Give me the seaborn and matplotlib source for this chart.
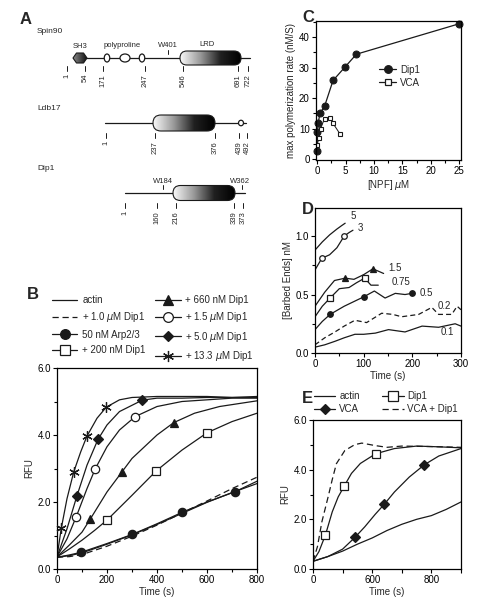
import numpy as np
import pandas as pd
import matplotlib
matplotlib.use("Agg")
import matplotlib.pyplot as plt
import seaborn as sns
from matplotlib.lines import Line2D
from matplotlib.patches import FancyBboxPatch, Ellipse, Polygon
from matplotlib.colors import LinearSegmentedColormap
from matplotlib.ticker import MultipleLocator, FixedLocator, FixedFormatter

# ---------------- data ----------------
# panel A: domain diagrams (residue numbers and their place on the schematic)
spin90_res = [1, 54, 171, 247, 546, 691, 722]
spin90_pos = [67, 85, 103, 145, 183, 238, 248]
ldb17_res = [1, 237, 376, 439, 492]
ldb17_pos = [106, 155, 215, 239, 247]
dip1_res = [1, 160, 216, 339, 373]
dip1_pos = [125, 157, 176, 234, 243]

# panel B: pyrene actin assembly (RFU vs time)
b_actin_t = [0, 50, 100, 200, 300, 400, 500, 600, 700, 800]
b_actin_y = [0.35, 0.40, 0.48, 0.74, 1.02, 1.33, 1.66, 1.99, 2.28, 2.55]
b_dip10_t = [0, 50, 100, 200, 300, 400, 500, 600, 700, 800]
b_dip10_y = [0.35, 0.37, 0.43, 0.68, 0.98, 1.31, 1.67, 2.03, 2.40, 2.74]
b_arp_t = [0, 50, 97, 200, 300, 400, 500, 600, 713, 800]
b_arp_y = [0.35, 0.42, 0.50, 0.76, 1.03, 1.35, 1.69, 2.00, 2.31, 2.62]
b_200_t = [0, 50, 100, 150, 200, 300, 397, 500, 601, 700, 800]
b_200_y = [0.36, 0.60, 0.86, 1.15, 1.46, 2.20, 2.93, 3.55, 4.07, 4.40, 4.65]
b_660_t = [0, 50, 100, 133, 200, 260, 300, 400, 467, 550, 650, 800]
b_660_y = [0.36, 0.72, 1.10, 1.49, 2.30, 2.90, 3.30, 4.00, 4.37, 4.65, 4.85, 5.02]
b_1p5_t = [0, 40, 77, 120, 153, 200, 250, 313, 400, 500, 600, 700, 800]
b_1p5_y = [0.36, 0.90, 1.56, 2.40, 2.99, 3.65, 4.15, 4.55, 4.85, 5.00, 5.05, 5.10, 5.10]
b_5p0_t = [0, 40, 80, 120, 164, 200, 250, 341, 400, 500, 600, 800]
b_5p0_y = [0.36, 1.20, 2.19, 3.10, 3.87, 4.30, 4.70, 5.04, 5.10, 5.10, 5.12, 5.12]
b_13_t = [0, 17, 40, 67, 95, 120, 160, 197, 250, 300, 400, 500, 600, 700, 800]
b_13_y = [0.36, 1.21, 2.10, 2.90, 3.50, 3.97, 4.50, 4.83, 5.05, 5.12, 5.15, 5.15, 5.15, 5.12, 5.15]

# panel C: max polymerization rate vs NPF
c_dip1_npf = [0.0, 0.05, 0.2, 0.5, 1.3, 2.8, 4.9, 6.9, 25.0]
c_dip1_rate = [2.6, 8.8, 12.0, 15.0, 17.3, 25.8, 30.2, 34.4, 44.4]
c_vca_npf = [0.0, 0.3, 0.6, 1.3, 2.3, 2.8, 4.0]
c_vca_rate = [4.5, 7.0, 10.0, 13.3, 13.5, 11.7, 8.3]

# panel D: barbed ends vs time for Dip1 concentrations
d_5_t = [0, 15, 30, 45, 55, 62]
d_5_y = [0.88, 0.95, 1.01, 1.06, 1.09, 1.11]
d_3_t = [0, 14, 30, 45, 60, 70, 78]
d_3_y = [0.71, 0.81, 0.84, 0.90, 1.00, 1.03, 1.05]
d_1p5_t = [0, 20, 40, 62, 80, 100, 119, 130, 141]
d_1p5_y = [0.40, 0.52, 0.62, 0.64, 0.63, 0.67, 0.72, 0.70, 0.68]
d_0p75_t = [0, 15, 31, 50, 70, 85, 102, 115, 130]
d_0p75_y = [0.31, 0.40, 0.47, 0.55, 0.56, 0.60, 0.64, 0.58, 0.58]
d_0p5_t = [0, 15, 31, 60, 80, 100, 122, 144, 165, 185, 199]
d_0p5_y = [0.20, 0.27, 0.33, 0.40, 0.44, 0.48, 0.53, 0.47, 0.51, 0.50, 0.51]
d_0p2_t = [0, 20, 41, 60, 82, 106, 137, 160, 178, 213, 240, 254, 281, 292, 300]
d_0p2_y = [0.07, 0.13, 0.18, 0.23, 0.28, 0.26, 0.34, 0.33, 0.31, 0.33, 0.39, 0.33, 0.33, 0.40, 0.37]
d_0p1_t = [0, 20, 41, 60, 82, 100, 124, 151, 185, 220, 254, 288, 300]
d_0p1_y = [0.05, 0.07, 0.10, 0.13, 0.16, 0.16, 0.17, 0.20, 0.18, 0.23, 0.22, 0.25, 0.23]

# panel E: pyrene actin assembly with VCA / Dip1
e_actin_t = [0, 100, 200, 300, 400, 500, 600, 700, 800, 900, 1000]
e_actin_y = [0.31, 0.50, 0.72, 1.00, 1.25, 1.55, 1.80, 2.00, 2.15, 2.40, 2.70]
e_vca_t = [0, 100, 200, 283, 350, 420, 482, 550, 650, 753, 850, 1000]
e_vca_y = [0.31, 0.50, 0.80, 1.27, 1.70, 2.20, 2.61, 3.10, 3.70, 4.20, 4.55, 4.85]
e_dip1_t = [0, 40, 84, 130, 170, 210, 260, 320, 423, 550, 700, 850, 1000]
e_dip1_y = [0.31, 0.70, 1.37, 2.30, 2.90, 3.33, 3.85, 4.25, 4.64, 4.85, 4.95, 4.92, 4.88]
e_both_t = [0, 30, 60, 102, 130, 158, 215, 283, 330, 420, 500, 600, 800, 1000]
e_both_y = [0.31, 0.90, 1.90, 2.90, 3.60, 4.24, 4.77, 5.01, 5.07, 4.97, 4.90, 4.95, 4.93, 4.90]

# ---------------- style ----------------
sns.set_theme(style="ticks")
plt.rcParams['font.family'] = ['Liberation Sans', 'DejaVu Sans']
plt.rcParams.update({
    'font.size': 7,
    'axes.linewidth': 0.9,
    'axes.edgecolor': 'black',
    'xtick.color': 'black',
    'ytick.color': 'black',
    'xtick.major.size': 3, 'ytick.major.size': 3,
    'xtick.minor.size': 2, 'ytick.minor.size': 2,
    'xtick.major.width': 0.8, 'ytick.major.width': 0.8,
    'xtick.minor.width': 0.8, 'ytick.minor.width': 0.8,
    'xtick.major.pad': 1.5, 'ytick.major.pad': 1.5,
    'mathtext.default': 'it',
})

W, H = 481, 609
fig = plt.figure(figsize=(W / 100, H / 100), dpi=100)


def frac(x0, y0, x1, y1):
    return [x0 / W, 1 - y1 / H, (x1 - x0) / W, (y1 - y0) / H]


LW = 0.9
MS = 6


def style_axes(ax):
    for s in ax.spines.values():
        s.set_visible(True)
        s.set_linewidth(0.9)
    ax.tick_params(axis='both', which='both', direction='out', labelsize=7,
                   top=False, right=False)
    ax.grid(False)


def curve(ax, t, y, ls='-', marker=None, mfc='k', mark_idx=None, ms=MS):
    sns.lineplot(x=t, y=y, ax=ax, color='k', lw=LW, linestyle=ls,
                 estimator=None, sort=False)
    if marker is not None:
        mt = [t[i] for i in mark_idx]
        my = [y[i] for i in mark_idx]
        ax.plot(mt, my, ls='none', marker=marker, ms=ms, mfc=mfc,
                mec='k', mew=0.9, zorder=5, clip_on=False)


# ---------------- panel A (schematic, pixel space) ----------------
axA = fig.add_axes([0, 0, 1, 1], zorder=-1)
axA.set_axis_off()

grad_cmap = LinearSegmentedColormap.from_list('g', ['#fafafa', '#9a9a9a', '#202020', '#000000'])
dark_cmap = LinearSegmentedColormap.from_list('d', ['#8a8a8a', '#111111'])
gradient = np.linspace(0, 1, 256).reshape(1, -1)


def grad_box(x0, x1, yc, h, cmap):
    box = FancyBboxPatch((x0, yc - h / 2), x1 - x0, h,
                         boxstyle="round,pad=0,rounding_size=%.1f" % (h / 2),
                         fc='none', ec='k', lw=0.8, zorder=4)
    axA.add_patch(box)
    im = axA.imshow(gradient, extent=(x0, x1, yc + h / 2, yc - h / 2),
                    cmap=cmap, aspect='auto', zorder=3)
    im.set_clip_path(box)


def res_ticks(pos, res, y_tick):
    for p, r in zip(pos, res):
        axA.plot([p, p], [y_tick, y_tick + 5], color='k', lw=0.7)
        axA.text(p, y_tick + 8, str(r), rotation=90, ha='center', va='top', fontsize=5.5)


txt = dict(fontsize=5.5, ha='center', va='baseline')

# Spin90
axA.text(37, 33, 'Spin90', fontsize=6, ha='left')
axA.plot([73, 250], [58, 58], color='k', lw=LW, zorder=2)
hexv = np.array([[73, 58], [76.5, 53], [83.5, 53], [87, 58], [83.5, 63], [76.5, 63]])
hexp = Polygon(hexv, closed=True, fc='none', ec='k', lw=0.8, zorder=4)
axA.add_patch(hexp)
im = axA.imshow(gradient, extent=(73, 87, 63, 53), cmap=dark_cmap, aspect='auto', zorder=3)
im.set_clip_path(hexp)
axA.text(80, 48, 'SH3', **txt)
for cx, w in [(107, 5.5), (125, 10), (142, 5.5)]:
    axA.add_patch(Ellipse((cx, 58), w, 8, fc='white', ec='k', lw=0.9, zorder=4))
axA.text(122, 47, 'polyproline', **txt)
axA.text(168, 47, 'W401', **txt)
axA.plot([168, 168], [50, 54], color='k', lw=0.7)
grad_box(180, 241, 58, 14, grad_cmap)
axA.text(207, 46, 'LRD', **txt)
res_ticks(spin90_pos, spin90_res, 66)

# Ldb17
axA.text(37, 110, 'Ldb17', fontsize=6, ha='left')
axA.plot([105, 246], [123, 123], color='k', lw=LW, zorder=2)
grad_box(153, 215, 123, 16, grad_cmap)
axA.add_patch(Ellipse((241, 123), 5, 5.5, fc='white', ec='k', lw=0.9, zorder=4))
res_ticks(ldb17_pos, ldb17_res, 133)

# Dip1
axA.text(37, 170, 'Dip1', fontsize=6, ha='left')
axA.plot([125, 245], [193, 193], color='k', lw=LW, zorder=2)
grad_box(173, 235, 193, 15, grad_cmap)
axA.text(163, 183, 'W184', **txt)
axA.plot([163, 163], [185, 189], color='k', lw=0.7)
axA.text(240, 183, 'W362', **txt)
axA.plot([242, 242], [185, 189], color='k', lw=0.7)
res_ticks(dip1_pos, dip1_res, 203)

# panel letters
for lab, (x, y) in {'A': (20, 24), 'B': (27, 299), 'C': (302, 22),
                    'D': (302, 214), 'E': (302, 403)}.items():
    axA.text(x, y, lab, fontsize=12, fontweight='bold', ha='left', va='baseline')

axA.set_xlim(0, W)
axA.set_ylim(H, 0)

# ---------------- panel B ----------------
axB = fig.add_axes(frac(57, 368, 257, 569))
style_axes(axB)
curve(axB, b_actin_t, b_actin_y)
curve(axB, b_dip10_t, b_dip10_y, ls=(0, (5, 3)))
curve(axB, b_arp_t, b_arp_y, marker='o', mark_idx=[2, 4, 6, 8])
curve(axB, b_200_t, b_200_y, marker='s', mfc='white', mark_idx=[4, 6, 8])
curve(axB, b_660_t, b_660_y, marker='^', mark_idx=[3, 5, 8])
curve(axB, b_1p5_t, b_1p5_y, marker='o', mfc='white', mark_idx=[2, 4, 7])
curve(axB, b_5p0_t, b_5p0_y, marker='D', mark_idx=[2, 4, 7], ms=4.8)
curve(axB, b_13_t, b_13_y, marker=(6, 2, 0), mark_idx=[1, 3, 5, 7], ms=7.5)
axB.set_xlim(0, 800)
axB.set_ylim(0, 6)
axB.xaxis.set_major_locator(MultipleLocator(200))
axB.xaxis.set_minor_locator(MultipleLocator(100))
axB.yaxis.set_major_locator(MultipleLocator(2))
axB.yaxis.set_minor_locator(MultipleLocator(1))
axB.yaxis.set_major_formatter(matplotlib.ticker.FormatStrFormatter('%.1f'))
axB.set_xlabel('Time (s)', fontsize=7, labelpad=1)
axB.set_ylabel('RFU', fontsize=7, labelpad=2)


def h(ls='-', marker=None, mfc='k', ms=MS):
    return Line2D([], [], color='k', lw=LW, linestyle=ls, marker=marker,
                  ms=ms, mfc=mfc, mec='k', mew=0.9)


b_labels = ['actin', '+ 1.0 $\\mu$M Dip1', '50 nM Arp2/3', '+ 200 nM Dip1',
            '+ 660 nM Dip1', '+ 1.5 $\\mu$M Dip1', '+ 5.0 $\\mu$M Dip1', '+ 13.3 $\\mu$M Dip1']
b_handles = [h(), h(ls=(0, (5, 3))), h(marker='o', ms=7), h(marker='s', mfc='white', ms=7),
             h(marker='^', ms=7), h(marker='o', mfc='white', ms=7), h(marker='D', ms=5.5),
             h(marker=(6, 2, 0), ms=8)]
axB.legend(b_handles, b_labels, ncol=2, loc='upper left', frameon=False,
           bbox_to_anchor=(52 / W, 1 - 295 / H), bbox_transform=fig.transFigure,
           fontsize=7, handlelength=2.6, handletextpad=0.5, columnspacing=1.0,
           labelspacing=0.55, borderpad=0, borderaxespad=0, numpoints=1)

# ---------------- panel C ----------------
axC = fig.add_axes(frac(316, 21, 461, 160))
style_axes(axC)
sns.lineplot(x=c_dip1_npf, y=c_dip1_rate, ax=axC, color='k', lw=LW, marker='o',
             ms=5, mec='k', mfc='k', estimator=None, sort=False, clip_on=False)
sns.lineplot(x=c_vca_npf, y=c_vca_rate, ax=axC, color='k', lw=LW * 0.8, marker='s',
             ms=3.5, mec='k', mfc='white', mew=0.8, estimator=None, sort=False)
axC.set_xlim(-0.2, 25.3)
axC.set_ylim(-0.3, 45.3)
axC.xaxis.set_major_locator(MultipleLocator(5))
axC.xaxis.set_minor_locator(MultipleLocator(2.5))
axC.yaxis.set_major_locator(MultipleLocator(10))
axC.yaxis.set_minor_locator(MultipleLocator(5))
axC.set_xlabel('[NPF] $\\mu$M', fontsize=7, labelpad=1)
axC.set_ylabel('max polymerization rate (nM/S)', fontsize=7, labelpad=2)
axC.legend([h(marker='o', ms=5.5), h(marker='s', mfc='white', ms=4)], ['Dip1', 'VCA'],
           loc='upper left', bbox_to_anchor=(0.40, 0.72), frameon=False, fontsize=7,
           handlelength=1.8, handletextpad=0.4, labelspacing=0.3, borderpad=0, numpoints=1)

# ---------------- panel D ----------------
axD = fig.add_axes(frac(315, 208, 461, 353))
style_axes(axD)
curve(axD, d_5_t, d_5_y)
curve(axD, d_3_t, d_3_y, marker='o', mfc='white', mark_idx=[1, 4], ms=4)
curve(axD, d_1p5_t, d_1p5_y, marker='^', mark_idx=[3, 6], ms=4)
curve(axD, d_0p75_t, d_0p75_y, marker='s', mfc='white', mark_idx=[2, 6], ms=4)
curve(axD, d_0p5_t, d_0p5_y, marker='o', mark_idx=[2, 5, 10], ms=4)
curve(axD, d_0p2_t, d_0p2_y, ls=(0, (4, 2.5)))
curve(axD, d_0p1_t, d_0p1_y)
d_labels = ['5', '3', '1.5', '0.75', '0.5', '0.2', '0.1']
d_lab_t = [74, 88, 150, 158, 214, 251, 259]
d_lab_y = [1.17, 1.07, 0.73, 0.61, 0.51, 0.40, 0.18]
for s, tx, ty in zip(d_labels, d_lab_t, d_lab_y):
    axD.text(tx, ty, s, fontsize=7, ha='left', va='center')
axD.set_xlim(0, 300)
axD.set_ylim(0, 1.24)
axD.xaxis.set_major_locator(MultipleLocator(100))
axD.xaxis.set_minor_locator(MultipleLocator(50))
axD.yaxis.set_major_locator(MultipleLocator(0.5))
axD.yaxis.set_minor_locator(MultipleLocator(0.25))
axD.yaxis.set_major_formatter(matplotlib.ticker.FormatStrFormatter('%.1f'))
axD.set_xlabel('Time (s)', fontsize=7, labelpad=1)
axD.set_ylabel('[Barbed Ends] nM', fontsize=7, labelpad=2)

# ---------------- panel E ----------------
axE = fig.add_axes(frac(313, 420, 461, 569))
style_axes(axE)
curve(axE, e_actin_t, e_actin_y)
curve(axE, e_vca_t, e_vca_y, marker='D', mark_idx=[3, 6, 9], ms=4.8)
curve(axE, e_dip1_t, e_dip1_y, marker='s', mfc='white', mark_idx=[2, 5, 8])
curve(axE, e_both_t, e_both_y, ls=(0, (5, 3)))
axE.set_xlim(0, 1000)
axE.set_ylim(0, 6)
axE.xaxis.set_major_locator(FixedLocator([0, 200, 400, 600, 800, 1000]))
axE.xaxis.set_major_formatter(FixedFormatter(['0', '', '600', '', '800', '']))
axE.yaxis.set_major_locator(MultipleLocator(2))
axE.yaxis.set_minor_locator(MultipleLocator(1))
axE.yaxis.set_major_formatter(matplotlib.ticker.FormatStrFormatter('%.1f'))
axE.set_xlabel('Time (s)', fontsize=7, labelpad=1)
axE.set_ylabel('RFU', fontsize=7, labelpad=2)
axE.legend([h(), h(marker='D', ms=5.5), h(marker='s', mfc='white', ms=7), h(ls=(0, (5, 3)))],
           ['actin', 'VCA', 'Dip1', 'VCA + Dip1'], ncol=2, loc='upper left', frameon=False,
           bbox_to_anchor=(314 / W, 1 - 391 / H), bbox_transform=fig.transFigure,
           fontsize=7, handlelength=2.2, handletextpad=0.4, columnspacing=2.3,
           labelspacing=0.35, borderpad=0, borderaxespad=0, numpoints=1)

fig.savefig('out.png', dpi=100)
